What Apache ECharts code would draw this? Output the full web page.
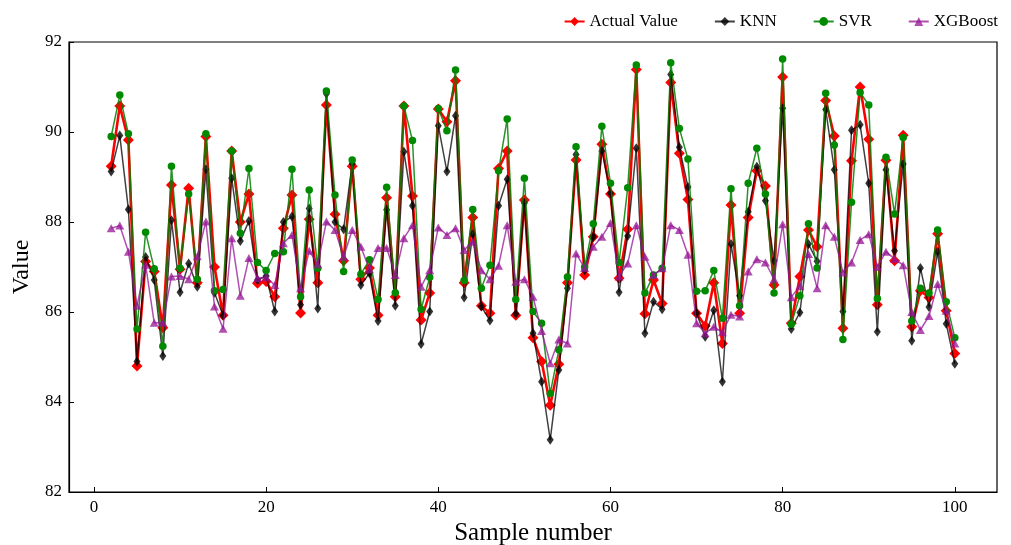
<!DOCTYPE html>
<html>
<head>
<meta charset="utf-8">
<script src="https://cdn.jsdelivr.net/npm/echarts@6/dist/echarts.min.js"></script>
<style>html,body{margin:0;padding:0;background:#fff;}#chart{width:1011px;height:545px;}</style>
</head>
<body>
<div id="chart"></div>
<script>
const samples = [2,3,4,5,6,7,8,9,10,11,12,13,14,15,16,17,18,19,20,21,22,23,24,25,26,27,28,29,30,31,32,33,34,35,36,37,38,39,40,41,42,43,44,45,46,47,48,49,50,51,52,53,54,55,56,57,58,59,60,61,62,63,64,65,66,67,68,69,70,71,72,73,74,75,76,77,78,79,80,81,82,83,84,85,86,87,88,89,90,91,92,93,94,95,96,97,98,99,100];
const actual = [89.24,90.58,89.82,84.8,87.12,86.9,85.65,88.82,86.95,88.75,86.65,89.9,87.0,85.93,89.58,88.0,88.62,86.64,86.68,86.34,87.86,88.6,85.98,88.06,86.65,90.6,88.17,87.14,89.24,86.73,86.98,85.93,88.54,86.34,90.58,88.58,85.82,86.42,90.51,90.23,91.14,86.65,88.1,86.14,85.97,89.19,89.58,85.93,88.49,85.43,84.9,83.93,84.84,86.65,89.38,86.82,87.67,89.73,88.62,86.75,87.84,91.39,85.96,86.71,86.19,91.1,89.53,88.5,85.97,85.69,86.65,85.3,88.38,85.97,88.1,89.14,88.8,86.6,91.22,85.75,86.79,87.82,87.45,90.7,89.91,85.64,89.36,91.0,89.84,86.16,89.37,87.14,89.93,85.67,86.47,86.32,87.74,86.03,85.08];
const knn = [89.12,89.92,88.28,84.9,87.22,86.71,85.02,88.04,86.44,87.08,86.56,89.17,86.43,85.92,88.97,87.58,88.02,86.71,86.8,86.01,88.0,88.12,86.16,88.3,86.08,90.85,88.0,87.84,89.3,86.6,86.86,85.8,88.27,86.14,89.56,88.36,85.29,86.01,90.14,89.12,90.36,86.32,87.73,86.12,85.81,88.36,88.95,85.96,88.42,85.53,84.45,83.16,84.71,86.53,89.5,86.93,87.67,89.58,88.64,86.44,87.69,89.64,85.53,86.23,86.06,91.28,89.66,88.78,85.97,85.45,86.04,84.45,87.51,86.36,88.23,89.23,88.47,87.14,90.53,85.62,85.99,87.51,87.13,90.5,89.16,86.01,90.04,90.16,88.86,85.56,89.16,87.36,89.29,85.36,86.98,86.11,87.34,85.74,84.85];
const svr = [89.9,90.82,89.96,85.62,87.77,86.96,85.24,89.24,86.97,88.62,86.73,89.96,86.47,86.5,89.58,87.75,89.19,87.1,86.92,87.3,87.34,89.17,86.34,88.71,86.97,90.91,88.6,86.9,89.38,86.84,87.16,86.28,88.77,86.43,90.58,89.81,86.06,86.77,90.52,90.03,91.38,86.7,88.28,86.53,87.04,89.14,90.29,86.28,88.97,86.01,85.75,84.19,85.16,86.78,89.67,87.0,87.96,90.13,88.86,87.1,88.76,91.49,86.42,86.82,86.97,91.54,90.08,89.4,86.46,86.47,86.92,85.86,88.74,86.14,88.86,89.64,88.62,86.42,91.62,85.73,86.36,87.96,86.98,90.86,89.71,85.39,88.44,90.88,90.6,86.3,89.44,88.18,89.88,85.8,86.53,86.42,87.82,86.23,85.43];
const xgb = [87.86,87.92,87.34,86.14,87.05,85.76,85.76,86.79,86.8,86.73,87.24,88.01,86.12,85.63,87.64,86.36,87.2,86.75,86.77,86.6,87.53,87.71,86.53,87.36,87.06,88.01,87.82,87.23,87.82,87.45,86.95,87.42,87.42,86.82,87.64,87.93,86.56,86.93,87.88,87.71,87.86,87.38,87.56,86.93,86.73,87.03,87.93,86.67,86.73,86.34,85.58,84.86,85.39,85.3,87.3,86.98,87.45,87.67,87.98,86.79,87.08,87.93,87.23,86.82,86.97,87.93,87.82,87.27,85.75,85.53,85.67,85.55,85.94,85.9,86.9,87.17,87.1,86.73,87.95,86.33,86.58,87.29,86.53,87.93,87.67,86.88,87.1,87.6,87.73,87.0,87.34,87.18,87.04,86.0,85.6,85.91,86.62,86.03,85.3];
const xTicks = [0,20,40,60,80,100];
const seriesNames = ['Actual Value','KNN','SVR','XGBoost'];

const FONT = '"Liberation Serif", "DejaVu Serif", serif';
function pairs(vals){ return samples.map((s,i)=>[s, vals[i]]); }

const chart = echarts.init(document.getElementById('chart'), null, {renderer:'canvas'});
chart.setOption({
  animation: false,
  backgroundColor: '#fff',
  textStyle: {fontFamily: FONT},
  grid: {left: 69, right: 14, top: 42, bottom: 53, outerBoundsMode: 'none', containLabel: false,
         show: true, borderColor: '#000', borderWidth: 1.2, backgroundColor: 'transparent'},
  legend: {
    right: 8, top: 8,
    itemWidth: 20, itemHeight: 11, itemGap: 36,
    textStyle: {fontFamily: FONT, fontSize: 17, color: '#000'},
    data: seriesNames
  },
  xAxis: {
    type: 'value', min: -2.9, max: 104.9,
    name: 'Sample number', nameLocation: 'middle', nameGap: 19,
    nameTextStyle: {fontFamily: FONT, fontSize: 25, color: '#000'},
    axisLine: {show: true, onZero: false, lineStyle: {color: '#000', width: 1.2}},
    axisTick: {show: true, inside: true, length: 5, lineStyle: {color: '#000'}, customValues: xTicks},
    axisLabel: {fontFamily: FONT, fontSize: 17, color: '#000', margin: 7, customValues: xTicks},
    splitLine: {show: false}
  },
  yAxis: {
    type: 'value', min: 82, max: 92, interval: 2,
    name: 'Value', nameLocation: 'middle', nameGap: 30,
    nameTextStyle: {fontFamily: FONT, fontSize: 24, color: '#000'},
    axisLine: {show: true, onZero: false, lineStyle: {color: '#000', width: 1.2}},
    axisTick: {show: true, inside: true, length: 5, lineStyle: {color: '#000'}},
    axisLabel: {fontFamily: FONT, fontSize: 17, color: '#000', margin: 7},
    splitLine: {show: false}
  },
  series: [
    {name: 'Actual Value', type: 'line', data: pairs(actual), symbol: 'diamond', symbolSize: [11, 11],
     itemStyle: {color: '#ff0000'}, lineStyle: {color: '#ff0000', width: 2.6}, z: 2},
    {name: 'KNN', type: 'line', data: pairs(knn), symbol: 'diamond', symbolSize: [7, 10],
     itemStyle: {color: 'rgba(0,0,0,0.8)'}, lineStyle: {color: 'rgba(0,0,0,0.75)', width: 1.5}, z: 3},
    {name: 'SVR', type: 'line', data: pairs(svr), symbol: 'circle', symbolSize: 7.5,
     itemStyle: {color: '#008a00'}, lineStyle: {color: 'rgba(0,128,0,0.85)', width: 1.5}, z: 4},
    {name: 'XGBoost', type: 'line', data: pairs(xgb), symbol: 'triangle', symbolSize: [9, 8],
     itemStyle: {color: 'rgba(150,20,150,0.75)'}, lineStyle: {color: 'rgba(150,20,150,0.75)', width: 1.5}, z: 5}
  ]
});
</script>
</body>
</html>
